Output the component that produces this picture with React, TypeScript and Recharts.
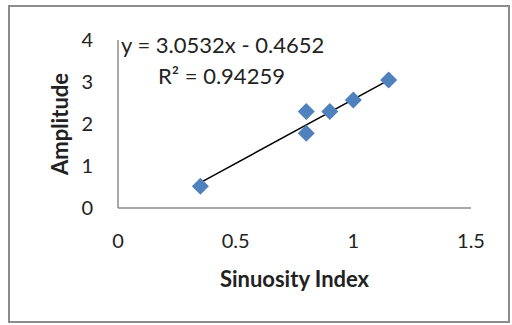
import {
  ScatterChart,
  Scatter,
  XAxis,
  YAxis,
  ReferenceLine,
} from "recharts";

// --- Data ---

const sinuosity = [0.35, 0.8, 0.8, 0.9, 1.0, 1.15];
const amplitude = [0.52, 2.3, 1.78, 2.3, 2.57, 3.05];

const xTicks = [0, 0.5, 1, 1.5];
const yTicks = [0, 1, 2, 3, 4];

// trendline coefficients as printed on the chart
const SLOPE = 3.0532;
const INTERCEPT = -0.4652;
const R2 = "0.94259";

const points = sinuosity.map((x, i) => ({ x, y: amplitude[i] }));
const xMin = Math.min(...sinuosity);
const xMax = Math.max(...sinuosity);
const trend = [
  { x: xMin, y: SLOPE * xMin + INTERCEPT },
  { x: xMax, y: SLOPE * xMax + INTERCEPT },
];

// --- Styles ---

const FONT = "Lato, 'Open Sans', sans-serif";
const AXIS = "#8c8c8c";
const MARKER = "#4f81bd";
const TEXT = "#222";

function Diamond(props: { cx?: number; cy?: number }) {
  const { cx, cy } = props;
  if (cx == null || cy == null) return null;
  const r = 8.5;
  return (
    <polygon
      points={`${cx},${cy - r} ${cx + r},${cy} ${cx},${cy + r} ${cx - r},${cy}`}
      fill={MARKER}
    />
  );
}

export default function App() {
  return (
    <div
      style={{
        position: "absolute",
        left: 0,
        top: 0,
        width: 512,
        height: 325,
        background: "#fff",
        fontFamily: FONT,
      }}
    >
      <div
        style={{
          position: "absolute",
          left: 8,
          top: 5,
          width: 502,
          height: 318,
          border: `2px solid ${AXIS}`,
          boxSizing: "border-box",
        }}
      />
      <ScatterChart
        width={512}
        height={325}
        margin={{ top: 40, right: 41, bottom: 37, left: 48 }}
        style={{ position: "absolute", left: 0, top: 0 }}
      >
        <XAxis
          type="number"
          dataKey="x"
          domain={[0, 1.5]}
          ticks={xTicks}
          height={80}
          tickLine={false}
          tickSize={0}
          tickMargin={26}
          axisLine={{ stroke: AXIS, strokeWidth: 1.5 }}
          tick={{ fill: TEXT, fontSize: 20, fontFamily: FONT }}
          label={{
            value: "Sinuosity Index",
            position: "insideBottom",
            offset: 1.5,
            fill: TEXT,
            fontSize: 22,
            fontWeight: 700,
            fontFamily: FONT,
          }}
        />
        <YAxis
          type="number"
          dataKey="y"
          domain={[0, 4]}
          ticks={yTicks}
          width={70}
          tickLine={false}
          tickSize={0}
          tickMargin={25}
          axisLine={{ stroke: AXIS, strokeWidth: 1.5 }}
          tick={{ fill: TEXT, fontSize: 20, fontFamily: FONT }}
          label={{
            value: "Amplitude",
            angle: -90,
            position: "insideLeft",
            offset: 12,
            textAnchor: "middle",
            style: { textAnchor: "middle" },
            fill: TEXT,
            fontSize: 22,
            fontWeight: 700,
            fontFamily: FONT,
          }}
        />
        <ReferenceLine
          segment={trend}
          stroke="#000"
          strokeWidth={1.5}
          ifOverflow="visible"
        />
        <Scatter data={points} shape={<Diamond />} isAnimationActive={false} />
      </ScatterChart>
      <div
        style={{
          position: "absolute",
          left: 121,
          top: 32,
          fontSize: 22,
          lineHeight: "26px",
          color: TEXT,
          whiteSpace: "nowrap",
        }}
      >
        y = {SLOPE}x - {Math.abs(INTERCEPT)}
      </div>
      <div
        style={{
          position: "absolute",
          left: 158,
          top: 63,
          fontSize: 22,
          lineHeight: "26px",
          color: TEXT,
          whiteSpace: "nowrap",
        }}
      >
        R² = {R2}
      </div>
    </div>
  );
}
